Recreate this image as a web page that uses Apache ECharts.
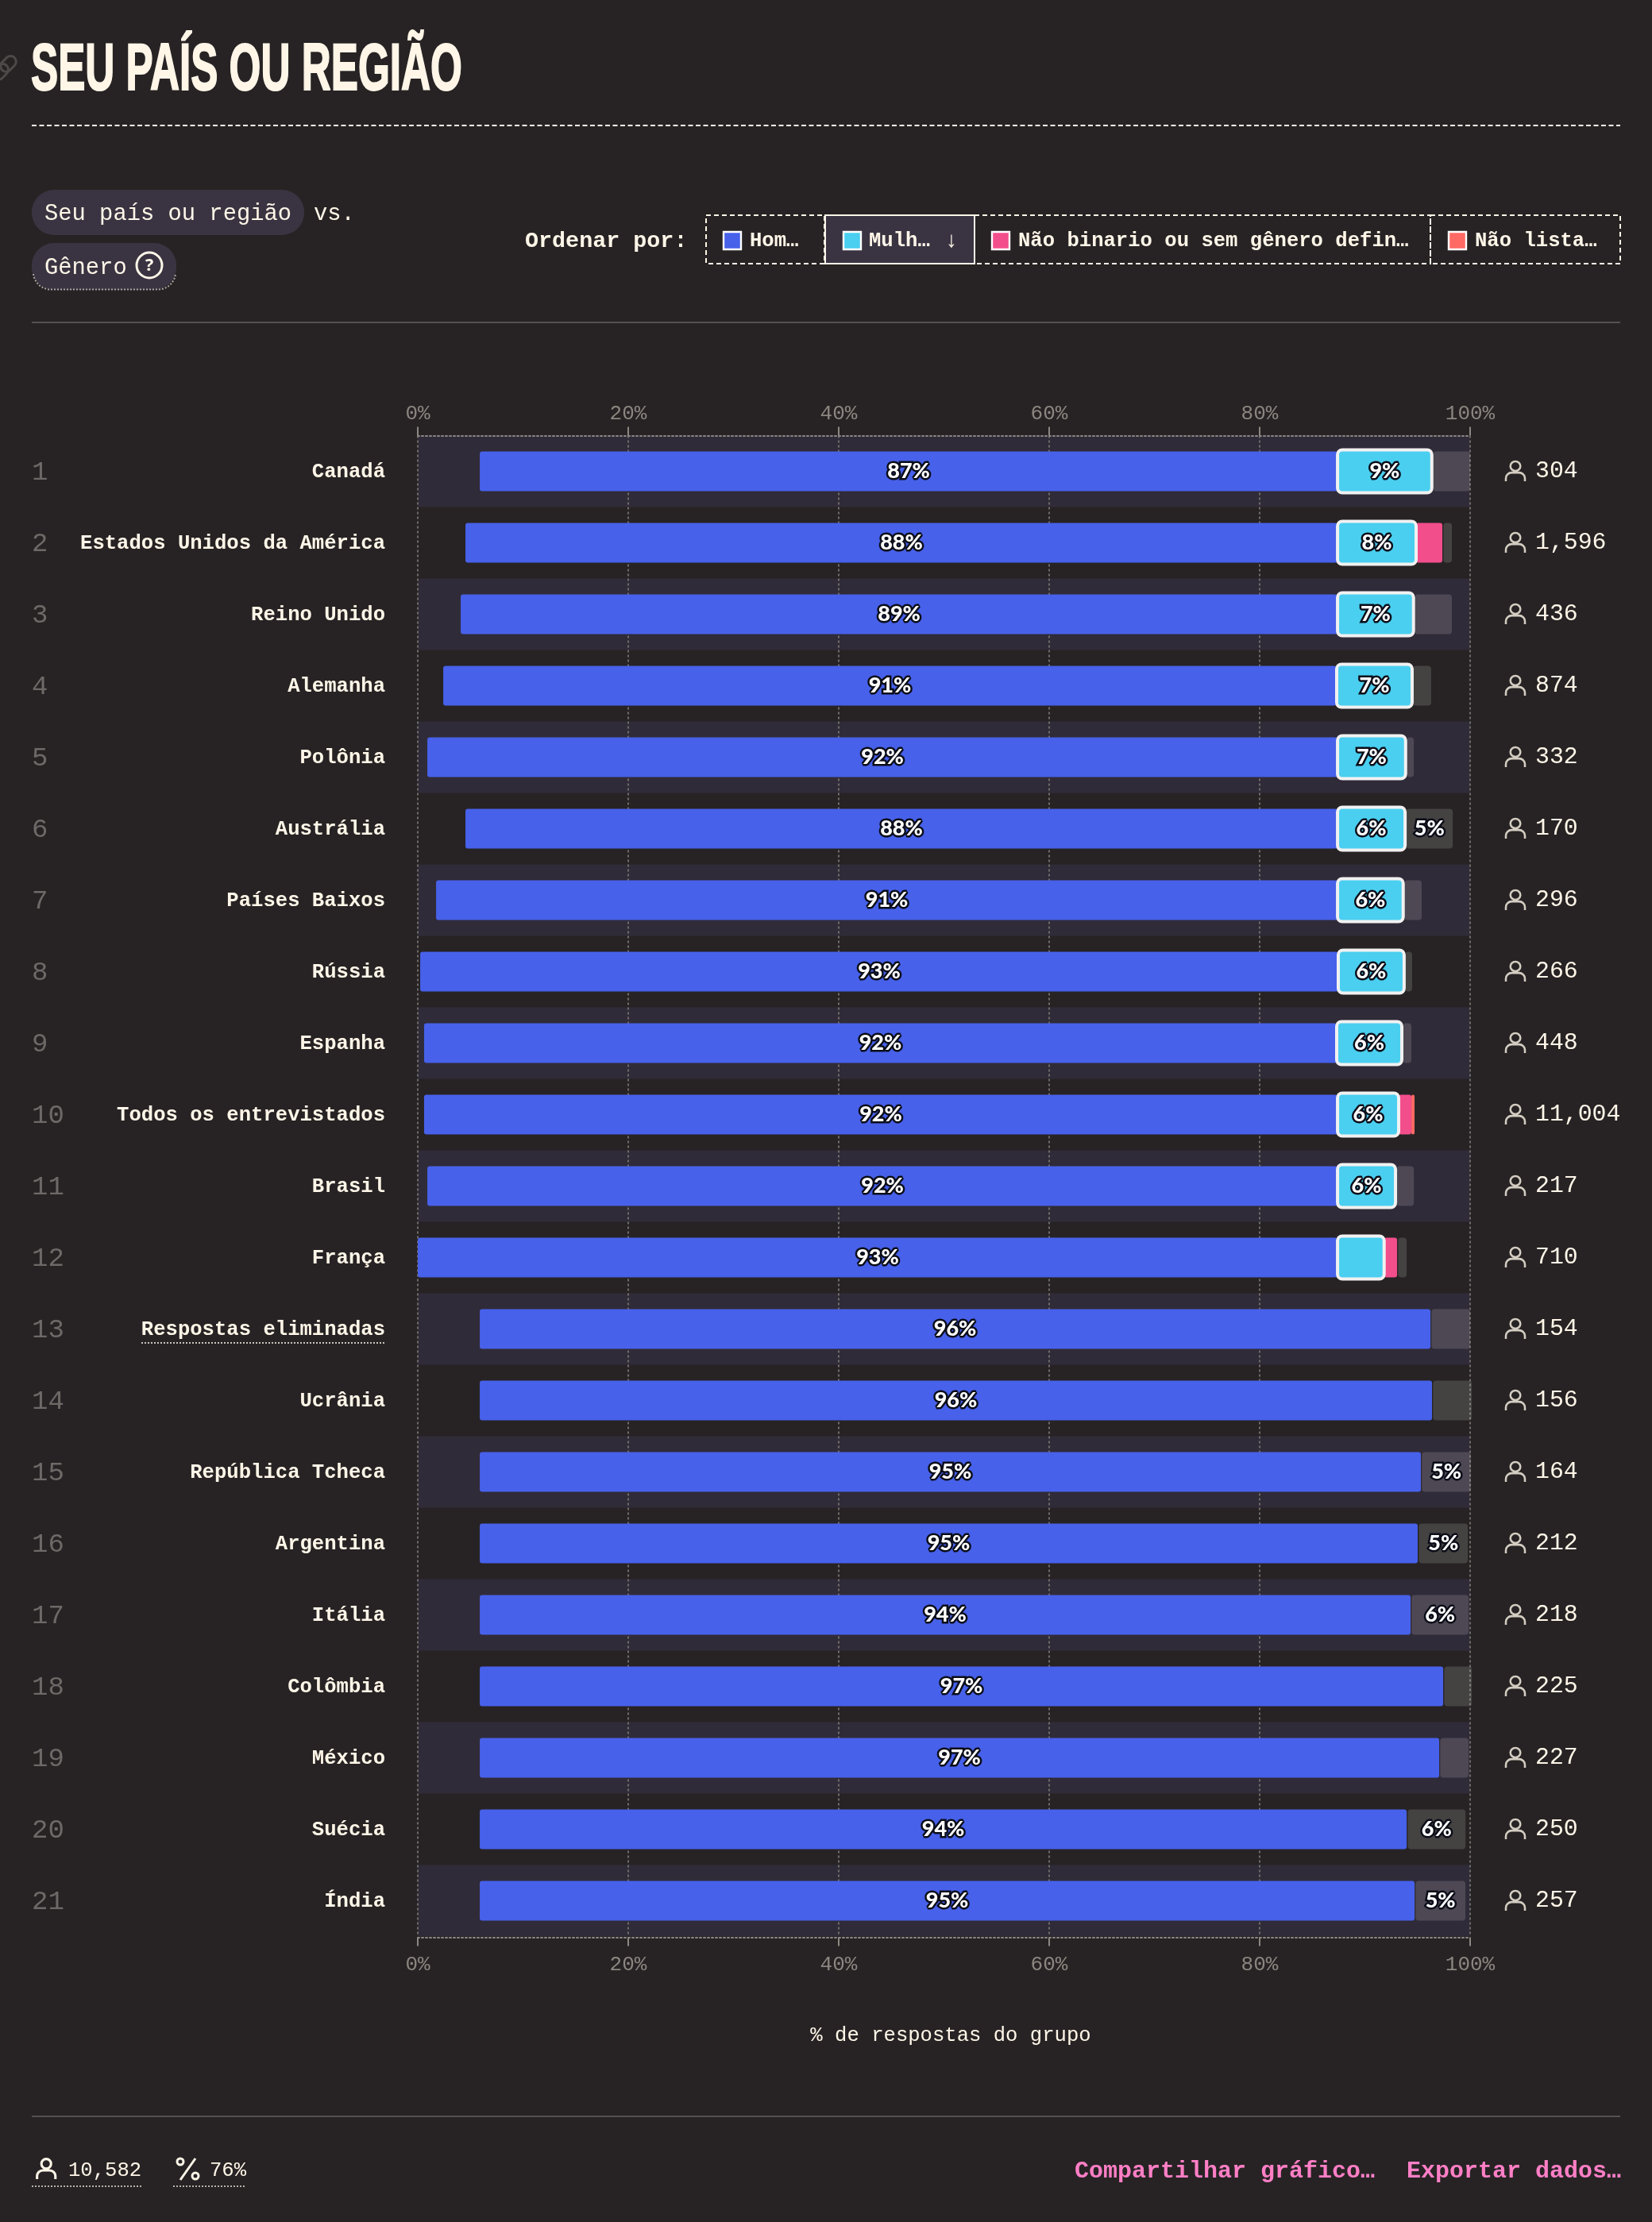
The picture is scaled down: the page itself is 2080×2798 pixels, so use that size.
<!DOCTYPE html>
<html><head><meta charset="utf-8"><title>Seu país ou região</title>
<style>html,body{margin:0;padding:0;background:#272324}#c{width:2080px;height:2798px}</style>
<script src="https://cdn.jsdelivr.net/npm/echarts@6/dist/echarts.min.js"></script>
</head><body><div id="c"></div>
<script>
const countries=["Canadá","Estados Unidos da América","Reino Unido","Alemanha","Polônia","Austrália","Países Baixos","Rússia","Espanha","Todos os entrevistados","Brasil","França","Respostas eliminadas","Ucrânia","República Tcheca","Argentina","Itália","Colômbia","México","Suécia","Índia"];
const counts=["304","1,596","436","874","332","170","296","266","448","11,004","217","710","154","156","164","212","218","225","227","250","257"];
// segment extents (percentage-axis units)
const spacer=[5.89,4.53,4.08,2.42,0.91,4.53,1.74,0.23,0.60,0.60,0.91,0,5.89,5.89,5.89,5.89,5.89,5.89,5.89,5.89,5.89];
const men=[81.51,82.87,83.32,84.90,86.49,82.87,85.66,87.24,86.72,86.80,86.49,87.40,90.34,90.49,89.43,89.13,88.45,91.55,91.17,88.08,88.83];
const women=[9.26,7.77,7.52,7.47,6.77,6.72,6.54,6.56,6.49,6.11,5.81,4.73,null,null,null,null,null,null,null,null,null];
const nonBinary=[0,2.49,0,0,0,0,0,0,0,1.21,0,1.23,0,0,0,0,0,0,0,0,0];
const notListed=[0,0,0,0,0,0,0,0,0,0.30,0,0,0,0,0,0,0,0,0,0,0];
const other=[3.55,0.81,3.55,1.71,0.68,4.43,1.66,0.66,0.81,0,1.64,0.81,3.68,3.68,4.66,4.66,5.41,2.62,2.69,5.49,4.73];
// printed percentages
const menLabels=["87%","88%","89%","91%","92%","88%","91%","93%","92%","92%","92%","93%","96%","96%","95%","95%","94%","97%","97%","94%","95%"];
const womenLabels=["9%","8%","7%","7%","7%","6%","6%","6%","6%","6%","6%","","","","","","","","","",""];
const otherLabels=["","","","","","5%","","","","","","","","","5%","5%","6%","","","6%","5%"];
const xTicks=[0,20,40,60,80,100];
const sortLabels=["Hom…","Mulh…","Não binario ou sem gênero defin…","Não lista…"];

const CREAM='#fff6e8',BG='#272324',MONO='"Liberation Mono",monospace';
const BLUE='#4761ea',CYAN='#4acff0',PINK='#f34e8c',CORAL='#ff6a64';
const PERSON_D='M12 1.5a5.5 5.5 0 1 0 .01 0zM1.5 24.5v-3.5a6.5 6.5 0 0 1 6.5-6.5h8a6.5 6.5 0 0 1 6.5 6.5v3.5';
const PERSON='path://'+PERSON_D;
echarts.graphic.registerShape('personIcon',echarts.graphic.extendPath(PERSON_D,{}));
echarts.graphic.registerShape('pillEdge',echarts.graphic.extendPath('M42 345a22 22 0 0 0 22 19.5h136a22 22 0 0 0 21-19.5',{}));
const pctLabel={show:true,position:'inside',fontFamily:'Lato,sans-serif',fontWeight:900,fontSize:27,color:'#fff',textBorderColor:'#0b0d18',textBorderWidth:5};

const seam=countries.map(()=>0.1);
// the women's box carries a 4px outline that sits outside its neighbours' edges
const OUTLINE=0.15;
const lead=spacer.map((s,i)=>s+men[i]-OUTLINE);
const ghost={itemStyle:{color:'transparent'},label:{show:false}};
const base={type:'bar',stack:'main',barWidth:50,z:2,clip:false,silent:true,xAxisIndex:0,yAxisIndex:0};
const series=[
 {...base,name:'spacer',data:spacer,...ghost},
 {...base,name:'Homem',data:men,itemStyle:{color:BLUE,borderRadius:3},label:{...pctLabel,formatter:p=>menLabels[p.dataIndex]}},
 {...base,name:'slot',data:women.map(v=>v?v-2*OUTLINE:0),...ghost},
 {...base,name:'Não binario',data:nonBinary,itemStyle:{color:PINK,borderRadius:3}},
 {...base,name:'Não listado',data:notListed,itemStyle:{color:CORAL,borderRadius:2}},
 {...base,name:'seam',data:seam,...ghost},
 {...base,name:'Outro',data:other,itemStyle:{color:'rgba(255,255,255,0.14)',borderRadius:4},label:{...pctLabel,formatter:p=>otherLabels[p.dataIndex]}},
 {type:'bar',stack:'w',barWidth:58,z:3,clip:false,silent:true,xAxisIndex:0,yAxisIndex:1,name:'lead',data:lead,...ghost},
 {type:'bar',stack:'w',barWidth:58,z:3,clip:false,silent:true,xAxisIndex:0,yAxisIndex:1,name:'Mulher',data:women,
  itemStyle:{color:CYAN,borderColor:'#f1f1f1',borderWidth:4,borderRadius:6},label:{...pctLabel,formatter:p=>womenLabels[p.dataIndex]}},
 {type:'scatter',name:'respondents',xAxisIndex:0,yAxisIndex:0,clip:false,silent:true,z:4,
  data:countries.map(c=>[100,c]),symbol:PERSON,symbolSize:[24,25],symbolOffset:[57,0],
  itemStyle:{color:'transparent',borderColor:CREAM,borderWidth:2.6}}
];

const txt=(x,y,text,o={})=>({type:'text',x,y:y+1.5,silent:true,style:{text,fill:o.fill||CREAM,font:`${o.weight||'normal'} ${o.size||26}px ${o.family||MONO}`,textAlign:o.align||'left',textVerticalAlign:'middle'}});
const line=(x1,y1,x2,y2,stroke,dash,w=2)=>({type:'line',silent:true,shape:{x1,y1,x2,y2},style:{stroke,lineWidth:w,lineDash:dash||null}});
const box=(x,y,w,h,o)=>({type:'rect',silent:true,shape:{x,y,width:w,height:h,r:o.r||0},style:{fill:o.fill||'none',stroke:o.stroke||'none',lineWidth:o.lw||2,lineDash:o.dash||null}});
const swatch=(x,c)=>box(x+1,292,22,22,{fill:c,stroke:'#fff',lw:2.4});
const D=[6,4];
const graphics=[
 // link icon clipped by the page edge
 {type:'rect',silent:true,x:7,y:84,rotation:0.8,shape:{x:-20,y:-7,width:22,height:14,r:7},style:{fill:'none',stroke:'#4d4948',lineWidth:3}},
 {type:'rect',silent:true,x:7,y:84,rotation:0.8,shape:{x:-6,y:-7,width:22,height:14,r:7},style:{fill:'none',stroke:'#4d4948',lineWidth:3}},
 {type:'text',silent:true,x:39,y:90,scaleX:0.61,style:{text:'SEU PAÍS OU REGIÃO',fill:CREAM,stroke:CREAM,lineWidth:2,font:'bold 84px "Liberation Sans",sans-serif',textVerticalAlign:'middle'}},
 line(40,158,2040,158,CREAM,[6,3.5]),
 box(40,239,343,57,{fill:'#3a3442',r:28}),
 txt(56,268,'Seu país ou região',{size:28.8}),
 txt(395,268,'vs.',{size:28.8}),
 box(40,306,182,59,{fill:'#3a3442',r:28}),
 {type:'pillEdge',silent:true,shape:{},style:{fill:'none',stroke:'#a9a5a0',lineWidth:2,lineDash:[2,2]}},
 txt(56,336,'Gênero',{size:28.8}),
 {type:'circle',silent:true,shape:{cx:188,cy:334,r:16},style:{fill:'none',stroke:CREAM,lineWidth:3}},
 txt(188,333.5,'?',{size:22,weight:'bold',align:'center',family:'"Noto Sans",sans-serif'}),
 txt(661,302,'Ordenar por:',{size:28.4,weight:'bold'}),
 box(889,271,149,61,{stroke:CREAM,dash:D}),
 box(1227,271,574,61,{stroke:CREAM,dash:D}),
 box(1801,271,239,61,{stroke:CREAM,dash:D}),
 box(1039,271,188,61,{stroke:CREAM,fill:'#3a3442'}),
 swatch(910,BLUE),txt(944,302,sortLabels[0],{size:25.6,weight:'bold'}),
 swatch(1061,CYAN),txt(1094,302,sortLabels[1],{size:25.6,weight:'bold'}),txt(1198,302,'↓',{size:28,weight:'bold',align:'center'}),
 swatch(1248,PINK),txt(1282,302,sortLabels[2],{size:25.6,weight:'bold'}),
 swatch(1823,CORAL),txt(1857,302,sortLabels[3],{size:25.6,weight:'bold'}),
 line(40,406,2040,406,'#555152'),
 line(178,1691,485,1691,'#c9c5bf',[2,2]),
 txt(1197,2562,'% de respostas do grupo',{size:25.6,align:'center'}),
 line(40,2665,2040,2665,'#555152'),
 {type:'personIcon',silent:true,x:45,y:2717,scaleX:1.1,scaleY:1.1,shape:{},style:{fill:'none',stroke:CREAM,lineWidth:2.8}},
 txt(86,2731.5,'10,582',{size:25.6}),
 line(40,2753,178,2753,'#b5b1ab',[2,2]),
 line(227,2745,246,2718,CREAM,null,3),
 {type:'circle',silent:true,shape:{cx:227,cy:2722,r:4},style:{fill:'none',stroke:CREAM,lineWidth:3}},
 {type:'circle',silent:true,shape:{cx:246,cy:2740,r:4},style:{fill:'none',stroke:CREAM,lineWidth:3}},
 txt(264,2731.5,'76%',{size:25.6}),
 line(218,2753,310,2753,'#b5b1ab',[2,2]),
 txt(1731,2732.5,'Compartilhar gráfico…',{size:30,weight:'bold',fill:'#ff7fc6',align:'right'}),
 txt(2041,2732.5,'Exportar dados…',{size:30,weight:'bold',fill:'#ff7fc6',align:'right'})
];

const axisCommon={type:'value',min:xTicks[0],max:xTicks[xTicks.length-1],interval:xTicks[1]-xTicks[0],
 axisLine:{show:true,lineStyle:{color:'#8b8782',width:2,type:[2,3]}},
 axisTick:{show:true,length:11,lineStyle:{color:'#8b8782',width:2}},
 axisLabel:{show:true,color:'#8b8680',fontFamily:MONO,fontSize:26,formatter:'{value}%',hideOverlap:false}};

const chart=echarts.init(document.getElementById('c'),null,{renderer:'canvas',width:2080,height:2798});
chart.setOption({
 animation:false,backgroundColor:BG,
 grid:{left:526,width:1325,top:548.5,height:1890,containLabel:false},
 xAxis:[
  {...axisCommon,position:'bottom',offset:1,axisLabel:{...axisCommon.axisLabel,margin:22},splitLine:{show:true,lineStyle:{color:'#6f6b69',width:2,type:[3,3]}}},
  {...axisCommon,position:'top',axisLabel:{...axisCommon.axisLabel,margin:14},splitLine:{show:false}}
 ],
 yAxis:[
  {type:'category',position:'left',inverse:true,data:countries,axisLine:{show:false},axisTick:{show:false},
   splitArea:{show:true,areaStyle:{color:['#302b38','rgba(0,0,0,0)']}},
   axisLabel:{interval:0,margin:41,padding:[3,0,0,0],fontFamily:MONO,formatter:(v,i)=>`{rank|${i+1}}{name|${v}}`,
    rich:{rank:{width:60,align:'left',fontSize:34,color:'#6d6967',fontFamily:MONO},name:{width:385,align:'right',fontSize:25.6,fontWeight:'bold',color:CREAM,fontFamily:MONO}}}},
  {type:'category',position:'right',inverse:true,data:counts,axisLine:{show:false},axisTick:{show:false},splitLine:{show:false},
   axisLabel:{interval:0,margin:82,padding:[5,0,0,0],fontSize:29.8,color:CREAM,fontFamily:MONO,align:'left'}}
 ],
 series,
 graphic:{elements:graphics}
});
</script></body></html>
